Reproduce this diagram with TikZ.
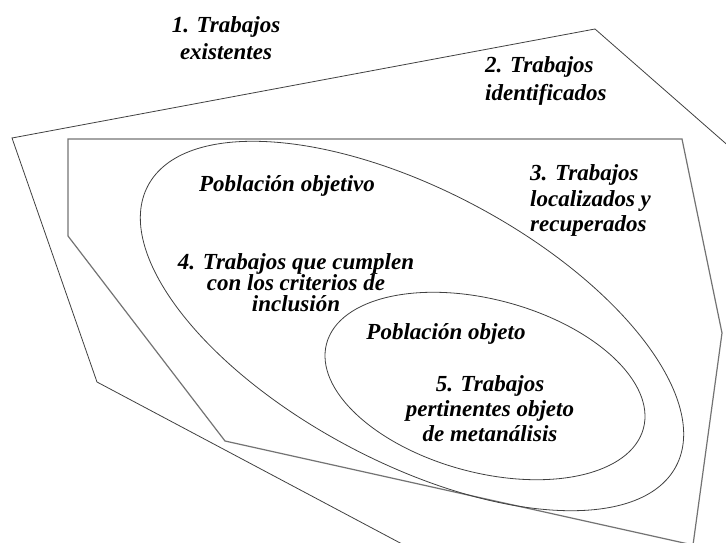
\documentclass[tikz,border=0pt]{standalone}
\usepackage{fontspec}
\setmainfont{Liberation Serif}
\begin{document}
\begin{tikzpicture}[x=1pt,y=-1pt,
  edge/.style={draw=black!75, line width=0.8pt, line join=miter},
  innerpoly/.style={draw=black!55, line width=1.2pt, line join=miter},
  lbl/.style={font=\fontsize{23}{#1}\selectfont\bfseries\itshape, inner sep=0pt, text=black},
  lbl/.default=27]
\useasboundingbox (0,0) rectangle (726,543);
\begin{scope}
\clip (0,0) rectangle (726,543);
% outer region (1/2)
\draw[edge] (500,596) -- (97,382) -- (12,138) -- (595,29) -- (780,191);
% region 3
\draw[innerpoly] (68,139) -- (682,139) -- (722,333) -- (693,545) -- (225,441) -- (68,236) -- cycle;
% population ellipses
\draw[edge] [rotate around={-28:(412,326)}] (412,326) ellipse [x radius=299, y radius=136];
\draw[edge] [rotate around={-15:(485,386)}] (485,386) ellipse [x radius=164, y radius=86.5];
\end{scope}
% labels
\node[lbl, align=center, anchor=north] (t1) at (226,16.5) {1. Trabajos\\existentes};
\node[lbl=28, align=left, anchor=north west] (t2) at (485,56.5) {2. Trabajos\\identificados};
\node[lbl=25.5, align=left, anchor=north west] (t3) at (530,164.5) {3. Trabajos\\localizados y\\recuperados};
\node[lbl, anchor=base] (t4) at (287,191) {Población objetivo};
\node[lbl=21, align=center, anchor=north] (t5) at (296,253) {4. Trabajos que cumplen\\con los criterios de\\inclusión};
\node[lbl, anchor=base] (t6) at (446,339) {Población objeto};
\node[lbl=25, align=center, anchor=north] (t7) at (490,375.5) {5. Trabajos\\pertinentes objeto\\de metanálisis};
\end{tikzpicture}
\end{document}
